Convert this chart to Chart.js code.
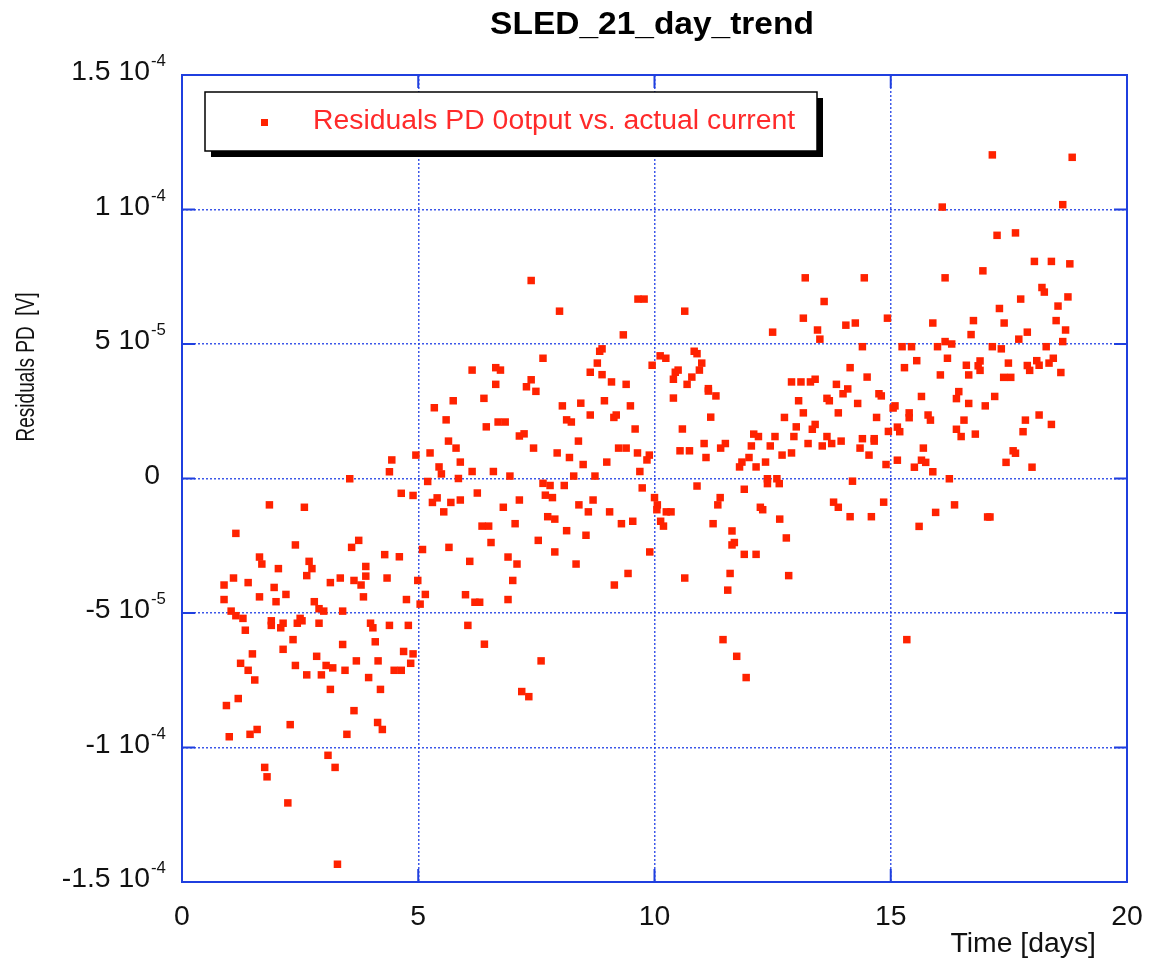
<!DOCTYPE html>
<html>
<head>
<meta charset="utf-8">
<title>SLED_21_day_trend</title>
<script src="https://cdn.jsdelivr.net/npm/chart.js@4.4.1/dist/chart.umd.min.js"></script>
<style>
  html, body { margin: 0; padding: 0; background: #fff; }
  #wrap { width: 1149px; height: 973px; }
</style>
</head>
<body>
<div id="wrap"><canvas id="chart" width="1149" height="973"></canvas></div>
<script>
const chartTitle = "SLED_21_day_trend";
const seriesLabel = "Residuals PD 0otput vs. actual current";
const xTitle = "Time [days]";
const yTitle = "Residuals PD  [V]";

const xTicks = [0, 5, 10, 15, 20];
const yTicks = [-1.5e-4, -1e-4, -5e-5, 0, 5e-5, 1e-4, 1.5e-4];
const yTickMantissa = ["-1.5 10", "-1 10", "-5 10", "0", "5 10", "1 10", "1.5 10"];
const yTickExponent = ["-4", "-4", "-5", "", "-5", "-4", "-4"];

// sample time, days
const days = [
  4.44, 4.39, 4.95, 5.25, 5.20, 5.30, 5.40, 3.55, 4.64, 4.89, 1.85, 2.59, 1.14, 2.40, 3.59, 3.74, 4.29, 4.60, 5.09, 1.64,
  1.69, 2.04, 2.69, 2.75, 2.64, 3.89, 3.89, 4.34, 1.09, 0.89, 1.40, 1.95, 3.14, 3.35, 3.64, 3.79, 4.99, 0.89, 1.64, 1.99,
  2.20, 3.84, 4.75, 5.15, 5.04, 2.80, 2.90, 3.00, 1.04, 1.14, 1.29, 1.89, 1.89, 2.14, 2.09, 2.44, 2.50, 2.54, 2.90, 3.40,
  3.99, 4.04, 4.39, 4.79, 1.34, 2.35, 2.14, 3.40, 4.09, 4.69, 4.89, 1.49, 2.85, 1.24, 1.40, 1.54, 2.40, 2.64, 2.95, 3.05,
  3.19, 3.45, 3.69, 4.15, 3.95, 4.20, 4.49, 4.64, 4.84, 3.14, 0.94, 1.19, 3.64, 2.29, 4.14, 4.24, 1.00, 1.44, 1.59, 3.49,
  3.09, 3.24, 1.75, 1.80, 2.24, 3.29,
  7.39, 7.99, 9.65, 9.78, 9.34, 8.89, 8.84, 8.79, 8.64, 8.89, 9.09, 9.40, 9.95, 10.12, 7.64, 6.14, 6.64, 6.74, 6.64, 7.39,
  7.29, 7.49, 6.39, 5.74, 5.34, 5.59, 6.44, 6.69, 6.84, 7.14, 7.24, 8.05, 8.44, 8.94, 9.49, 8.64, 9.14, 9.19, 8.14, 8.24,
  9.59, 8.39, 5.64, 5.80, 5.44, 5.49, 5.89, 6.14, 6.59, 7.44, 7.94, 8.20, 8.49, 8.99, 9.24, 9.40, 9.64, 9.89, 9.84, 9.69,
  5.85, 6.94, 8.29, 8.74, 7.64, 7.79, 8.09, 9.74,
  5.69, 5.54, 5.89, 6.25, 6.80, 7.14, 7.69, 7.84, 7.74, 7.89, 8.40, 8.70, 8.60, 9.05, 9.30, 9.54, 10.00, 10.06, 10.05, 10.13,
  6.35, 6.49, 7.05, 8.14, 8.55, 7.54, 6.54, 5.65, 7.89, 9.90, 6.09, 6.90, 7.09, 8.34, 9.44, 9.15, 7.00, 6.00, 6.20, 6.30,
  6.90, 6.05, 6.40, 7.60, 7.19, 7.34,
  13.19, 14.44, 10.64, 13.59, 13.15, 12.50, 13.45, 13.50, 14.05, 14.25, 14.93, 14.40, 10.24, 10.84, 10.90, 11.00, 10.95, 10.50, 10.44, 10.40,
  10.79, 10.69, 10.40, 11.14, 11.14, 11.30, 11.19, 10.59, 10.54, 10.74, 11.05, 11.09, 11.40, 11.50, 10.90, 11.90, 12.10, 12.20, 12.05, 12.00,
  11.80, 11.85, 12.15, 12.35, 12.45, 12.55, 12.70, 12.75, 12.90, 13.10, 13.30, 13.40, 13.05, 13.15, 13.00, 12.95, 12.90, 13.25, 13.34, 13.40,
  13.55, 13.65, 13.75, 13.95, 13.65, 13.70, 13.85, 13.89, 13.99, 14.09, 14.14, 14.50, 14.30, 14.40, 14.35, 14.54, 14.65, 14.65, 14.70, 14.75,
  14.80, 14.90, 14.95, 12.39, 12.39, 12.59, 12.64, 14.19,
  10.25, 10.35, 10.19, 11.39, 11.34, 11.24, 11.64, 11.69, 11.64, 11.90, 12.15, 12.24, 12.29, 12.65, 12.79, 12.84, 11.60, 11.55, 10.64, 13.79,
  13.89, 14.14, 14.59, 14.85, 11.45, 11.74, 11.94,
  17.15, 18.84, 16.09, 18.64, 17.25, 17.64, 18.04, 18.40, 18.79, 16.95, 16.15, 18.20, 18.25, 17.75, 18.75, 18.54, 17.30, 18.50, 15.89, 16.75,
  17.40, 18.70, 16.70, 17.89, 17.71, 18.64, 15.24, 15.44, 15.99, 16.15, 16.29, 17.15, 17.34, 18.29, 15.55, 16.20, 15.29, 16.60, 16.89, 16.85,
  16.89, 17.49, 17.89, 17.94, 18.09, 18.14, 18.35, 18.44, 18.60,
  16.05, 16.65, 17.39, 17.54, 16.44, 16.39, 15.65, 16.65, 17.00, 17.20, 15.09, 15.05, 15.39, 15.39, 15.79, 15.84, 16.55, 16.39, 16.49, 16.79,
  15.14, 15.19, 17.85, 18.14, 18.40, 17.80, 15.69, 15.14, 15.50, 15.65, 15.74, 15.89, 16.24, 17.59, 17.64, 17.44, 17.99, 16.35, 15.95, 15.60,
  17.05, 17.10, 15.34
];

// residual of each sample, in units of 1e-5 V
const residuals = [
  0.69, 0.25, 0.87, 0.95, -0.11, -0.89, -0.72, -0.01, -0.55, -0.63, -0.98, -1.07, -2.04, -2.47, -2.56, -2.30, -2.83, -2.91, -2.64, -2.92,
  -3.18, -3.35, -3.08, -3.35, -3.61, -3.27, -3.63, -3.70, -3.70, -3.96, -3.87, -4.05, -3.87, -3.70, -3.79, -3.96, -3.79, -4.50, -4.40, -4.58,
  -4.31, -4.40, -4.50, -4.31, -4.67, -4.58, -4.84, -4.93, -4.93, -5.10, -5.20, -5.29, -5.46, -5.38, -5.55, -5.38, -5.20, -5.29, -5.38, -4.93,
  -5.38, -5.55, -5.46, -5.46, -5.64, -5.99, -6.35, -6.17, -6.07, -6.43, -6.52, -6.52, -6.61, -6.87, -7.13, -7.49, -6.95, -7.30, -7.30, -6.95,
  -7.04, -7.13, -6.78, -6.78, -7.40, -7.84, -7.13, -7.13, -6.87, -7.84, -8.44, -8.18, -8.63, -9.15, -9.07, -9.33, -9.60, -9.51, -9.33, -9.51,
  -10.29, -10.74, -10.74, -11.09, -12.06, -14.34,
  7.36, 6.22, 6.67, 6.67, 5.34, 4.82, 4.73, 4.29, 3.95, 3.86, 3.59, 3.50, 4.21, 4.56, 4.47, 4.03, 4.12, 4.03, 3.50, 3.67,
  3.41, 3.24, 2.98, 2.89, 2.63, 2.18, 1.92, 2.10, 2.10, 1.58, 1.66, 2.70, 2.80, 2.89, 2.70, 2.36, 2.27, 2.36, 2.18, 2.10,
  1.84, 1.39, 1.39, 1.13, 0.43, 0.17, 0.61, 0.26, 0.26, 1.13, 0.95, 0.78, 0.52, 0.61, 1.13, 1.13, 0.95, 0.87, 0.69, 0.26,
  0.00, 0.09, 0.09, 0.09, -0.18, -0.26, -0.26, -0.35,
  -0.89, -1.24, -0.80, -0.54, -1.07, -0.80, -0.62, -0.71, -1.42, -1.51, -0.98, -0.80, -1.24, -1.24, -1.68, -1.59, -0.71, -0.98, -1.16, -1.59,
  -1.77, -1.77, -1.68, -1.94, -2.11, -2.30, -2.38, -2.56, -2.73, -2.73, -3.08, -2.92, -3.18, -3.18, -3.53, -3.96, -3.79, -4.32, -4.60, -4.60,
  -4.50, -5.46, -6.16, -6.78, -7.92, -8.11,
  7.46, 7.46, 6.22, 6.58, 5.96, 5.44, 5.52, 5.18, 5.70, 5.78, 5.96, 4.90, 4.47, 4.73, 4.64, 4.29, 4.03, 4.03, 3.95, 3.69,
  3.77, 3.50, 2.99, 3.34, 3.25, 3.07, 2.28, 1.84, 1.03, 1.03, 1.30, 0.78, 1.13, 1.30, -0.28, -0.40, 1.65, 1.56, 1.21, 0.78,
  0.43, 0.61, 0.43, 0.61, 1.21, 1.56, 0.87, 2.27, 3.59, 3.59, 3.59, 3.69, 2.89, 2.44, 1.92, 1.56, 0.95, 1.30, 1.83, 2.01,
  1.21, 1.56, 1.30, 1.39, 2.98, 2.89, 3.50, 2.44, 3.15, 3.33, 4.12, 3.77, 2.79, 1.48, 1.13, 0.87, 1.48, 1.39, 2.27, 3.15,
  3.07, 0.52, 1.75, -0.01, -0.19, -0.01, -0.19, -0.10,
  -1.24, -1.24, -1.77, -0.71, -0.98, -1.68, -1.95, -2.38, -2.47, -2.82, -2.82, -1.07, -1.16, -1.51, -2.21, -3.61, -3.53, -4.15, -3.70, -0.88,
  -1.07, -1.42, -1.42, -0.88, -5.99, -6.61, -7.40,
  12.03, 11.94, 10.09, 10.18, 9.04, 9.13, 8.07, 8.07, 7.98, 7.72, 7.46, 7.10, 6.93, 6.67, 6.75, 6.41, 6.32, 5.87, 5.78, 5.87,
  5.78, 5.52, 5.35, 5.44, 5.18, 5.09, 4.90, 4.90, 4.90, 5.09, 5.00, 4.90, 4.82, 4.90, 4.38, 4.47, 4.12, 4.21, 4.37, 4.19,
  4.02, 4.29, 4.20, 4.02, 4.38, 4.21, 4.29, 4.47, 3.94,
  3.85, 3.85, 3.76, 3.76, 3.23, 2.97, 3.05, 2.79, 2.70, 3.05, 2.70, 2.62, 2.44, 2.26, 2.36, 2.17, 2.17, 1.83, 1.56, 1.65,
  1.91, 1.74, 2.17, 2.36, 2.01, 1.74, 1.13, 0.68, 0.42, 0.68, 0.60, 0.25, -0.01, 1.03, 0.94, 0.60, 0.42, -0.98, -1.26, -1.78,
  -1.43, -1.43, -5.99
];

const BLUE = "#1f3fdf";
const GRID = "rgba(40, 70, 230, 0.9)";
const RED = "#ff2200";
const FONT = '"Liberation Sans", Arial, Helvetica, sans-serif';
const SX = 1.05; // text in the original is drawn slightly wide

const points = days.map((d, i) => ({ x: d, y: residuals[i] * 1e-5 }));

// draws text stretched horizontally by sx
function wideText(ctx, text, x, y, font, sx, align) {
  ctx.save();
  ctx.font = font;
  const w = ctx.measureText(text).width * sx;
  let left = x;
  if (align === "center") left = x - w / 2;
  else if (align === "right") left = x - w;
  ctx.translate(left, y);
  ctx.scale(sx, 1);
  ctx.textAlign = "left";
  ctx.fillText(text, 0, 0);
  ctx.restore();
  return w;
}

const framePlugin = {
  id: "frame",
  afterDraw(chart) {
    const { ctx, chartArea: a } = chart;
    const xs = chart.scales.x, ys = chart.scales.y;
    ctx.save();

    // inner tick marks + full box
    ctx.strokeStyle = BLUE;
    ctx.lineWidth = 2;
    ctx.beginPath();
    xTicks.forEach(v => {
      const px = xs.getPixelForValue(v);
      ctx.moveTo(px, a.bottom); ctx.lineTo(px, a.bottom - 13);
      ctx.moveTo(px, a.top); ctx.lineTo(px, a.top + 13);
    });
    yTicks.forEach(v => {
      const py = ys.getPixelForValue(v);
      ctx.moveTo(a.left, py); ctx.lineTo(a.left + 13, py);
      ctx.moveTo(a.right, py); ctx.lineTo(a.right - 13, py);
    });
    ctx.stroke();
    ctx.strokeRect(a.left, a.top, a.right - a.left, a.bottom - a.top);

    // tick labels
    ctx.fillStyle = "#111";
    ctx.textBaseline = "middle";
    yTicks.forEach((v, i) => {
      const py = ys.getPixelForValue(v) - 2;
      if (yTickExponent[i]) {
        wideText(ctx, yTickMantissa[i], 150, py, "27px " + FONT, SX, "right");
        wideText(ctx, yTickExponent[i], 151, py - 11, "16px " + FONT, SX, "left");
      } else {
        wideText(ctx, yTickMantissa[i], 160, py, "27px " + FONT, SX, "right");
      }
    });
    xTicks.forEach(v => {
      wideText(ctx, String(v), xs.getPixelForValue(v), 918, "27px " + FONT, SX, "center");
    });

    // axis titles
    wideText(ctx, xTitle, 1096, 945, "27px " + FONT, SX, "right");
    ctx.save();
    ctx.translate(27, 367);
    ctx.rotate(-Math.PI / 2);
    ctx.scale(1, 1.35);
    ctx.font = "19px " + FONT;
    ctx.textAlign = "center";
    ctx.fillText(yTitle, 0, 0);
    ctx.restore();

    // chart title
    ctx.fillStyle = "#000";
    wideText(ctx, chartTitle, 652, 25, "bold 31px " + FONT, 1.08, "center");

    // legend box with drop shadow
    const lx = 205, ly = 92, lw = 612, lh = 59;
    ctx.fillStyle = "#000";
    ctx.fillRect(lx + 6, ly + 6, lw, lh);
    ctx.fillStyle = "#fff";
    ctx.fillRect(lx, ly, lw, lh);
    ctx.strokeStyle = "#000";
    ctx.lineWidth = 1.5;
    ctx.strokeRect(lx, ly, lw, lh);
    const ds = chart.data.datasets[0];
    ctx.fillStyle = ds.backgroundColor;
    ctx.fillRect(261, 119, 7, 7);
    ctx.fillStyle = "#ff2a2a";
    wideText(ctx, ds.label, 313, 122, "27px " + FONT, SX, "left");

    ctx.restore();
  }
};

new Chart(document.getElementById("chart"), {
  type: "scatter",
  data: {
    datasets: [{
      label: seriesLabel,
      data: points,
      pointStyle: "rect",
      pointRadius: 5.3,
      pointHoverRadius: 5.3,
      backgroundColor: RED,
      borderWidth: 0
    }]
  },
  options: {
    responsive: false,
    animation: false,
    events: [],
    layout: { padding: { left: 182, right: 22, top: 75, bottom: 91 } },
    plugins: {
      legend: { display: false },
      title: { display: false },
      tooltip: { enabled: false }
    },
    scales: {
      x: {
        type: "linear",
        min: 0,
        max: 20,
        ticks: { stepSize: 5, display: false },
        grid: { color: GRID, lineWidth: 1.5, drawTicks: false },
        border: { display: false, dash: [2, 2] }
      },
      y: {
        min: -1.5e-4,
        max: 1.5e-4,
        ticks: { stepSize: 5e-5, display: false },
        grid: { color: GRID, lineWidth: 1.5, drawTicks: false },
        border: { display: false, dash: [2, 2] }
      }
    }
  },
  plugins: [framePlugin]
});
</script>
</body>
</html>
